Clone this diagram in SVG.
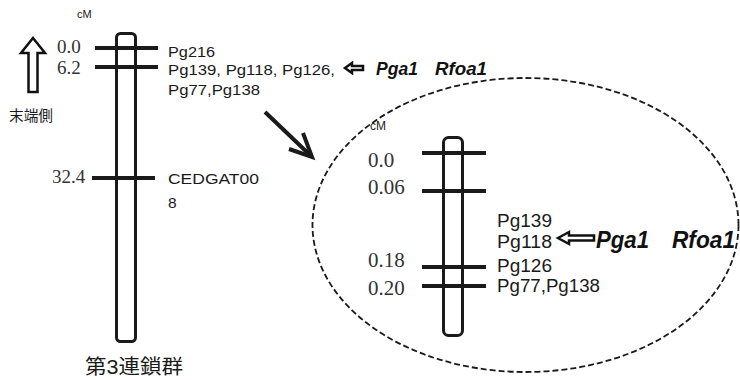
<svg xmlns="http://www.w3.org/2000/svg" width="740" height="380" viewBox="0 0 740 380">
  <style>
    .chrom { fill: #fff; stroke: #1a1a1a; stroke-width: 3; }
    .tick { stroke: #1a1a1a; stroke-width: 4; }
    .pos { font-family: "Liberation Serif", "Times New Roman", serif; fill: #333; }
    .mk { font-family: "Liberation Sans", Arial, sans-serif; fill: #1a1a1a; }
    .gene { font-family: "Liberation Sans", Arial, sans-serif; font-weight: bold; font-style: italic; fill: #111; }
    .cjk { font-family: "Liberation Sans", "Noto Sans CJK JP", sans-serif; fill: #1a1a1a; }
    .hollow { fill: #fff; stroke: #111; stroke-width: 2.5; stroke-linejoin: miter; }
    .zoomline { fill: none; stroke: #1a1a1a; stroke-width: 4; stroke-linecap: butt; }
  </style>
  <rect width="740" height="380" fill="#fff"/>

  <!-- whole linkage group 3 -->
  <g id="lg3">
    <text class="mk" x="77" y="18" font-size="11">cM</text>
    <rect class="chrom" x="116.5" y="33.5" width="19" height="308" rx="4"/>
    <line class="tick" x1="95" y1="48" x2="158" y2="48"/>
    <line class="tick" x1="95" y1="67" x2="158" y2="67"/>
    <line class="tick" x1="92" y1="178" x2="155" y2="178"/>
    <text class="pos" x="57" y="53" font-size="19">0.0</text>
    <text class="pos" x="57" y="74" font-size="19">6.2</text>
    <text class="pos" x="52" y="183" font-size="19">32.4</text>
    <text class="mk" x="168" y="57" font-size="15.5" textLength="47" lengthAdjust="spacingAndGlyphs">Pg216</text>
    <text class="mk" x="168" y="75" font-size="15.5" textLength="167" lengthAdjust="spacingAndGlyphs">Pg139, Pg118, Pg126,</text>
    <text class="mk" x="168" y="95" font-size="15.5" textLength="92" lengthAdjust="spacingAndGlyphs">Pg77,Pg138</text>
    <text class="mk" x="168" y="184" font-size="15.5" textLength="91" lengthAdjust="spacingAndGlyphs">CEDGAT00</text>
    <text class="mk" x="168" y="208" font-size="15.5">8</text>
    <text class="cjk" x="85" y="374" font-size="20" textLength="98" lengthAdjust="spacingAndGlyphs">第3連鎖群</text>
  </g>

  <!-- terminal side indicator -->
  <g id="terminal">
    <polygon class="hollow" points="33,38 45,53 37.5,53 37.5,92 28.5,92 28.5,53 21,53"/>
    <text class="cjk" x="9" y="121" font-size="15" textLength="44" lengthAdjust="spacingAndGlyphs">末端側</text>
  </g>

  <!-- gene labels on the whole group -->
  <g id="genes-top">
    <polygon class="hollow" points="345,68 352,63 352,66 363,66 363,70 352,70 352,73"/>
    <text class="gene" x="376" y="75" font-size="18" textLength="42" lengthAdjust="spacingAndGlyphs">Pga1</text>
    <text class="gene" x="435" y="75" font-size="18" textLength="52" lengthAdjust="spacingAndGlyphs">Rfoa1</text>
  </g>

  <!-- connectors -->
  <g id="connectors">
    <line class="zoomline" x1="265" y1="112" x2="311" y2="156"/>
    <polyline class="zoomline" points="303,133 312,157 289,149" stroke-linejoin="miter"/>
  </g>

  <!-- enlarged region -->
  <g id="detail">
    <ellipse cx="525.5" cy="225" rx="213" ry="147" fill="none" stroke="#1a1a1a" stroke-width="1.8" stroke-dasharray="6 3"/>
    <text class="mk" x="370" y="130" font-size="12">cM</text>
    <rect class="chrom" x="443.5" y="137.5" width="19" height="198" rx="5"/>
    <line class="tick" x1="422" y1="153" x2="486" y2="153"/>
    <line class="tick" x1="422" y1="191" x2="486" y2="191"/>
    <line class="tick" x1="422" y1="267" x2="486" y2="267"/>
    <line class="tick" x1="422" y1="286" x2="486" y2="286"/>
    <text class="pos" x="368" y="167" font-size="21">0.0</text>
    <text class="pos" x="368" y="194" font-size="21">0.06</text>
    <text class="pos" x="368" y="267" font-size="21">0.18</text>
    <text class="pos" x="368" y="295" font-size="21">0.20</text>
    <text class="mk" x="497" y="227" font-size="18" textLength="55" lengthAdjust="spacingAndGlyphs">Pg139</text>
    <text class="mk" x="497" y="248" font-size="18" textLength="55" lengthAdjust="spacingAndGlyphs">Pg118</text>
    <text class="mk" x="497" y="272" font-size="18" textLength="55" lengthAdjust="spacingAndGlyphs">Pg126</text>
    <text class="mk" x="497" y="292" font-size="18" textLength="103" lengthAdjust="spacingAndGlyphs">Pg77,Pg138</text>
    <polygon class="hollow" points="558,238 569,232 569,235.5 594,235.5 594,240.5 569,240.5 569,244"/>
    <text class="gene" x="596" y="248" font-size="23" textLength="53" lengthAdjust="spacingAndGlyphs">Pga1</text>
    <text class="gene" x="672" y="248" font-size="23" textLength="63" lengthAdjust="spacingAndGlyphs">Rfoa1</text>
  </g>
</svg>
